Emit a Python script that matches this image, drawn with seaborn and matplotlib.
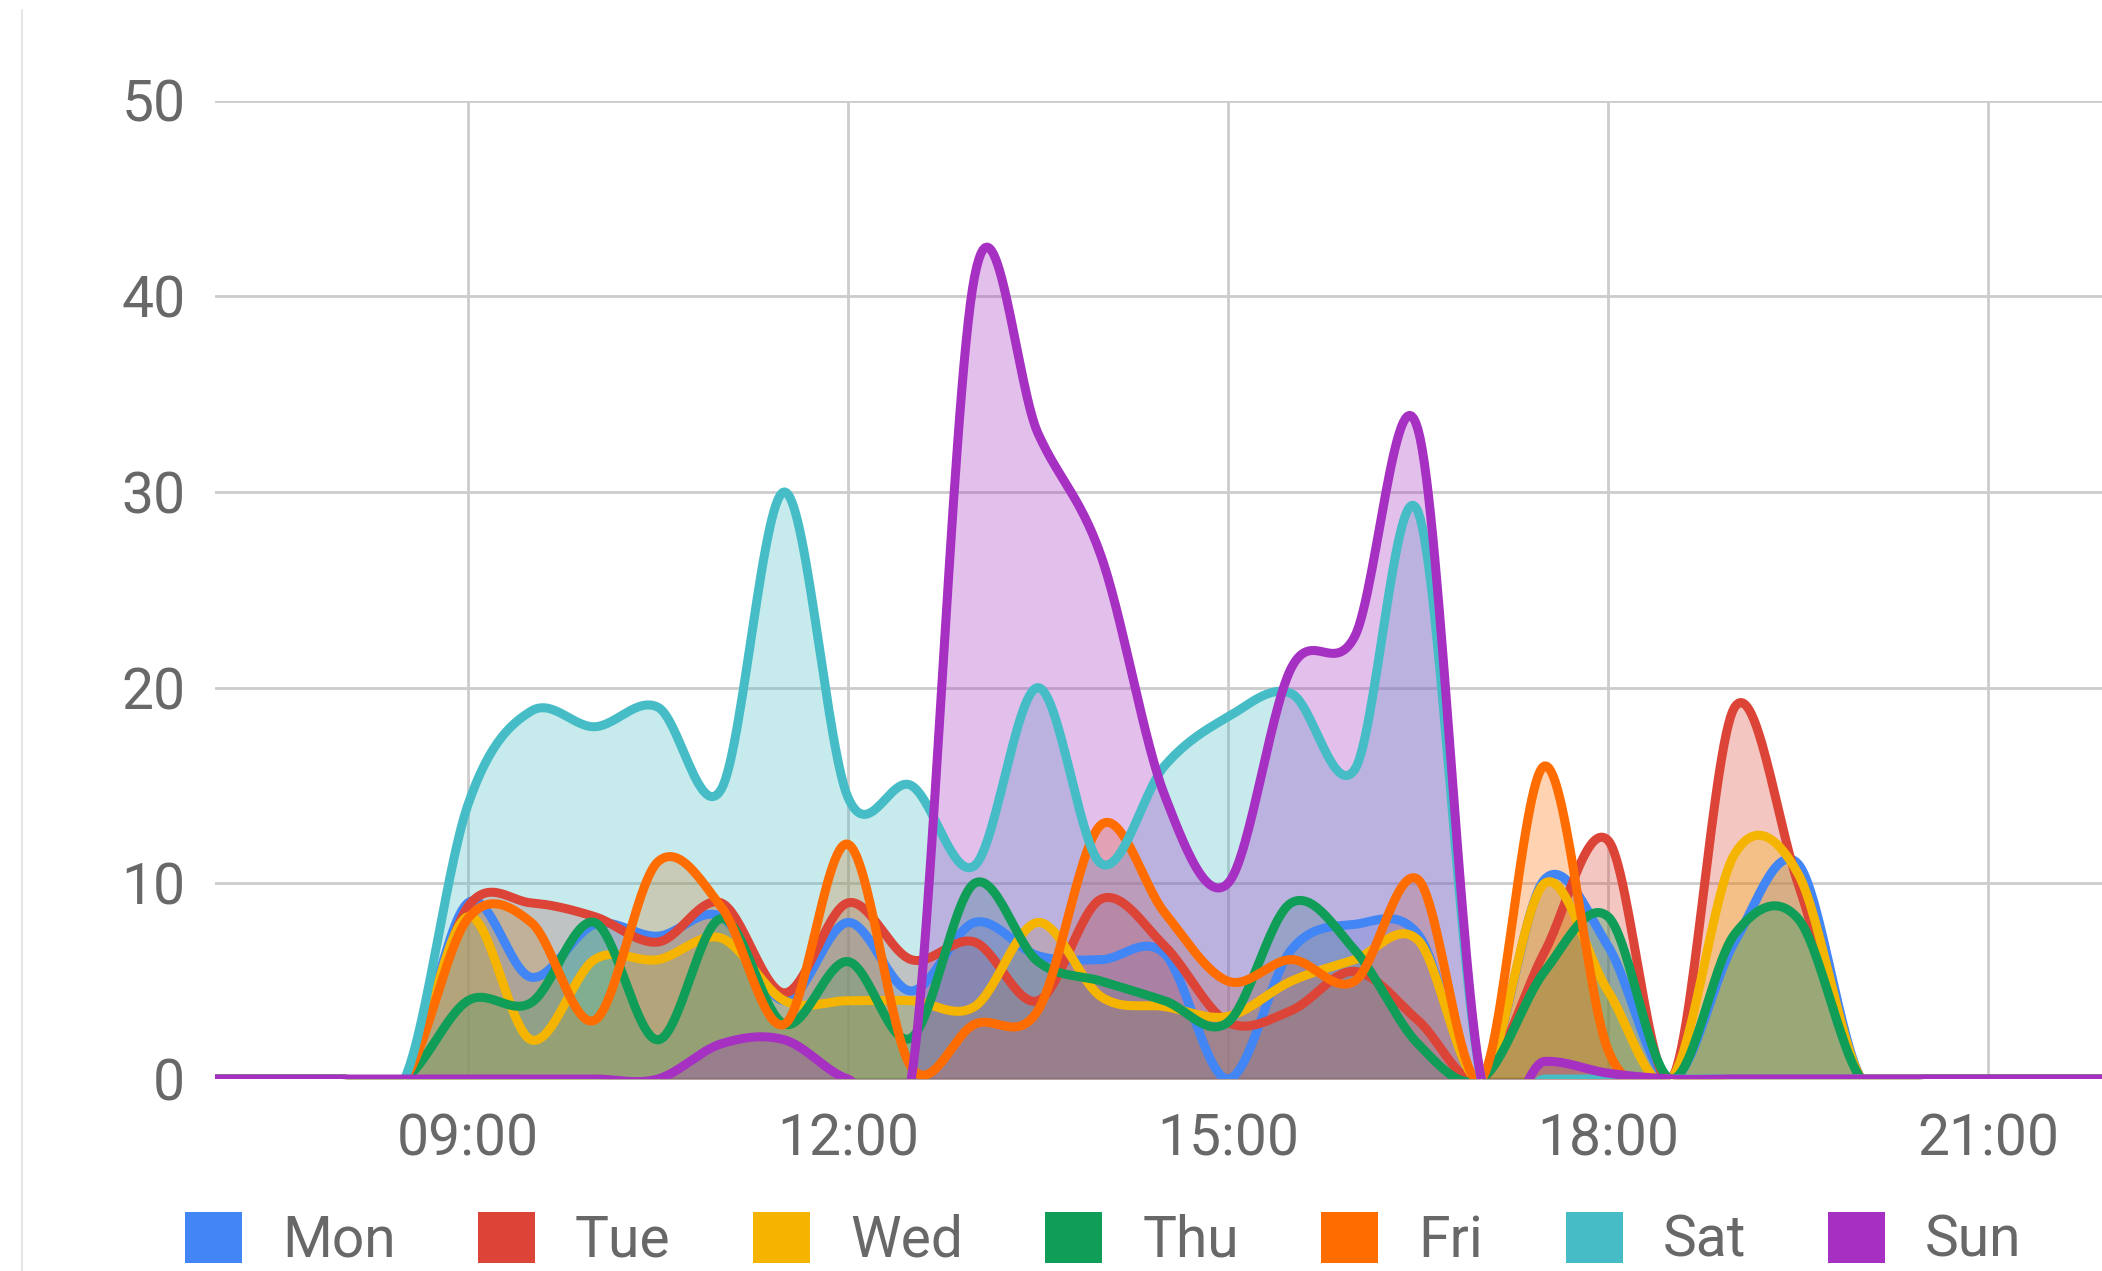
import numpy as np
import matplotlib
matplotlib.use("Agg")
import matplotlib.pyplot as plt
from matplotlib.patches import Patch
from matplotlib.lines import Line2D
import seaborn as sns

# half-hour slots, values
times = ["07:00", "07:30", "08:00", "08:30", "09:00", "09:30", "10:00", "10:30",
         "11:00", "11:30", "12:00", "12:30", "13:00", "13:30", "14:00", "14:30",
         "15:00", "15:30", "16:00", "16:30", "17:00", "17:30", "18:00", "18:30",
         "19:00", "19:30", "20:00", "20:30", "21:00", "21:30", "22:00"]

mon = [0, 0, 0, 0, 9.0, 5.2, 7.9, 7.3, 8.3, 4.0, 8.0, 4.5, 8.0, 6.3, 6.1, 6.4,
       0, 6.6, 7.9, 7.4, 0, 10.2, 6.8, 0, 7.0, 11.0, 0, 0, 0, 0, 0]
tue = [0, 0, 0, 0, 8.8, 9.0, 8.3, 7.0, 9.0, 4.4, 9.0, 6.1, 7.0, 4.0, 9.2, 6.8,
       2.9, 3.5, 5.5, 3.0, 0, 6.5, 12.2, 0, 19.0, 10.0, 0, 0, 0, 0, 0]
wed = [0, 0, 0, 0, 8.3, 2.0, 6.1, 6.1, 7.2, 4.0, 4.0, 4.0, 3.7, 8.0, 4.2, 3.7,
       3.2, 5.0, 6.1, 7.1, 0, 10.0, 4.5, 0, 11.5, 10.5, 0, 0, 0, 0, 0]
thu = [0, 0, 0, 0, 4.0, 3.9, 8.0, 2.0, 8.2, 2.8, 6.0, 2.1, 10.0, 6.0, 5.0, 4.0,
       2.9, 9.0, 6.6, 1.8, 0, 5.5, 8.3, 0, 7.4, 8.2, 0, 0, 0, 0, 0]
fri = [0, 0, 0, 0, 8.2, 8.0, 3.0, 11.1, 8.8, 2.8, 12.0, 0.6, 2.8, 3.5, 13.0, 8.5,
       5.0, 6.1, 5.0, 10.2, 0, 16.0, 1.5, 0, 0, 0, 0, 0, 0, 0, 0]
sat = [0, 0, 0, 0, 14.0, 18.8, 18.0, 19.0, 14.8, 30.0, 14.4, 15.0, 10.9, 20.0, 11.0, 16.0,
       18.5, 19.7, 15.8, 29.0, 0, 0, 0, 0, 0, 0, 0, 0, 0, 0, 0]
sun = [0, 0, 0, 0, 0, 0, 0, 0, 1.8, 2.0, 0, 0, 41.0, 33.0, 26.7, 14.5,
       10.0, 21.0, 22.6, 33.2, 0, 0.9, 0.3, 0, 0, 0, 0, 0, 0, 0, 0]

days = ["Mon", "Tue", "Wed", "Thu", "Fri", "Sat", "Sun"]
series = [mon, tue, wed, thu, fri, sat, sun]
colors = ["#4285F4", "#DB4437", "#F4B400", "#0F9D58", "#FF6D00", "#46BDC6", "#A530C2"]

tick_hours = [9, 12, 15, 18, 21]
tick_labels = ["09:00", "12:00", "15:00", "18:00", "21:00"]


def to_hours(t):
    h, m = t.split(":")
    return int(h) + int(m) / 60


def smooth(x, y, steps=30):
    # cubic hermite with catmull-rom tangents (like curveType 'function')
    x = np.asarray(x, float)
    y = np.asarray(y, float)
    m = np.gradient(y, x)
    t = np.linspace(0, 1, steps, endpoint=False)
    h00 = 2 * t**3 - 3 * t**2 + 1
    h10 = t**3 - 2 * t**2 + t
    h01 = -2 * t**3 + 3 * t**2
    h11 = t**3 - t**2
    xs, ys = [], []
    for i in range(len(x) - 1):
        h = x[i + 1] - x[i]
        xs.append(x[i] + t * h)
        ys.append(h00 * y[i] + h10 * h * m[i] + h01 * y[i + 1] + h11 * h * m[i + 1])
    xs.append([x[-1]])
    ys.append([y[-1]])
    return np.concatenate(xs), np.concatenate(ys)


sns.set_theme(style="white")
plt.rcParams["font.family"] = ["Roboto", "DejaVu Sans"]
text_col = "#686868"

W, H = 2102, 1271
fig = plt.figure(figsize=(W / 100, H / 100), dpi=100)
ax = fig.add_axes([214.5 / W, (H - 1079) / H, (W - 214.5) / W, (1079 - 100.5) / H])

hours = [to_hours(t) for t in times]
curves = [smooth(hours, vals) for vals in series]

# areas first, then all the lines on top
for i, ((xs, ys), col) in enumerate(zip(curves, colors)):
    ax.fill_between(xs, 0, ys, color=col, alpha=0.3, lw=0, zorder=3 + 0.1 * i)
for i, ((xs, ys), col) in enumerate(zip(curves, colors)):
    sns.lineplot(x=xs, y=ys, color=col, linewidth=6.5, ax=ax, zorder=5 + 0.1 * i,
                 sort=False, estimator=None)

ax.axhline(0, color="#444444", lw=2.5, zorder=2.5)
ax.set_xlim(7, 21.9)
ax.set_ylim(0, 50)
ax.set_yticks([0, 10, 20, 30, 40, 50])
ax.set_xticks(tick_hours)
ax.set_xticklabels(tick_labels)
ax.grid(True, color="#cccccc", lw=2)
ax.set_axisbelow(True)
for s in ax.spines.values():
    s.set_visible(False)
ax.tick_params(axis="both", length=0, labelsize=41, colors=text_col)
ax.tick_params(axis="x", pad=24)
ax.tick_params(axis="y", pad=21)
ax.set_xlabel("")
ax.set_ylabel("")

handles = [Patch(facecolor=c, edgecolor="none") for c in colors]
fig.legend(handles, days, loc="center left", bbox_to_anchor=(185 / W, 0.024),
           ncol=7, frameon=False, fontsize=41, labelcolor=text_col,
           handlelength=1.0, handleheight=1.0, handletextpad=0.7,
           columnspacing=1.45, borderpad=0, borderaxespad=0)

# thin frame line of the screenshot at the left
fig.add_artist(Line2D([22 / W, 22 / W], [0, 1 - 10 / H], color="#e6e6e6", lw=1.5,
                      transform=fig.transFigure))

fig.savefig("out.png", dpi=100)
